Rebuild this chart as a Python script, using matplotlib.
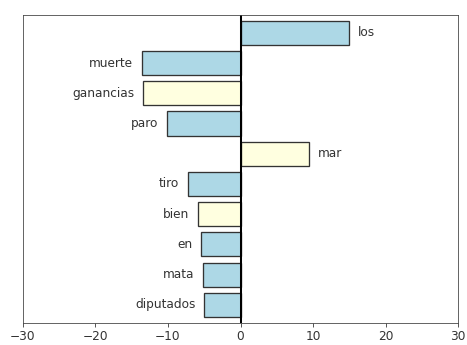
import matplotlib.pyplot as plt

# word weights, listed top to bottom
words = ['los', 'muerte', 'ganancias', 'paro', 'mar',
         'tiro', 'bien', 'en', 'mata', 'diputados']
weights = [15.0, -13.6, -13.4, -10.2, 9.4,
           -7.3, -5.9, -5.4, -5.2, -5.0]
colors = ['lightblue', 'lightblue', 'lightyellow', 'lightblue', 'lightyellow',
          'lightblue', 'lightyellow', 'lightblue', 'lightblue', 'lightblue']

plt.rcParams['font.size'] = 12
plt.rcParams['text.color'] = '#333333'
plt.rcParams['xtick.color'] = '#333333'
plt.rcParams['axes.edgecolor'] = '#444444'

fig = plt.figure(figsize=(467 / 73, 345 / 73), dpi=73)
ax = fig.add_axes([0.049, 0.064, 0.932, 0.893])

pos = list(range(len(words)))[::-1]
ax.barh(pos, weights, height=0.8, color=colors, edgecolor='#333333', linewidth=1.3)

for y, w, word in zip(pos, weights, words):
    if w >= 0:
        ax.text(w + 1.2, y, word, va='center', ha='left')
    else:
        ax.text(w - 1.2, y, word, va='center', ha='right')

ax.axvline(0, color='black', linewidth=2)
ax.set_xlim(-30, 30)
ax.set_ylim(-0.6, 9.6)
ax.set_xticks([-30, -20, -10, 0, 10, 20, 30])
ax.set_yticks([])

fig.savefig('out.png', dpi=73)
